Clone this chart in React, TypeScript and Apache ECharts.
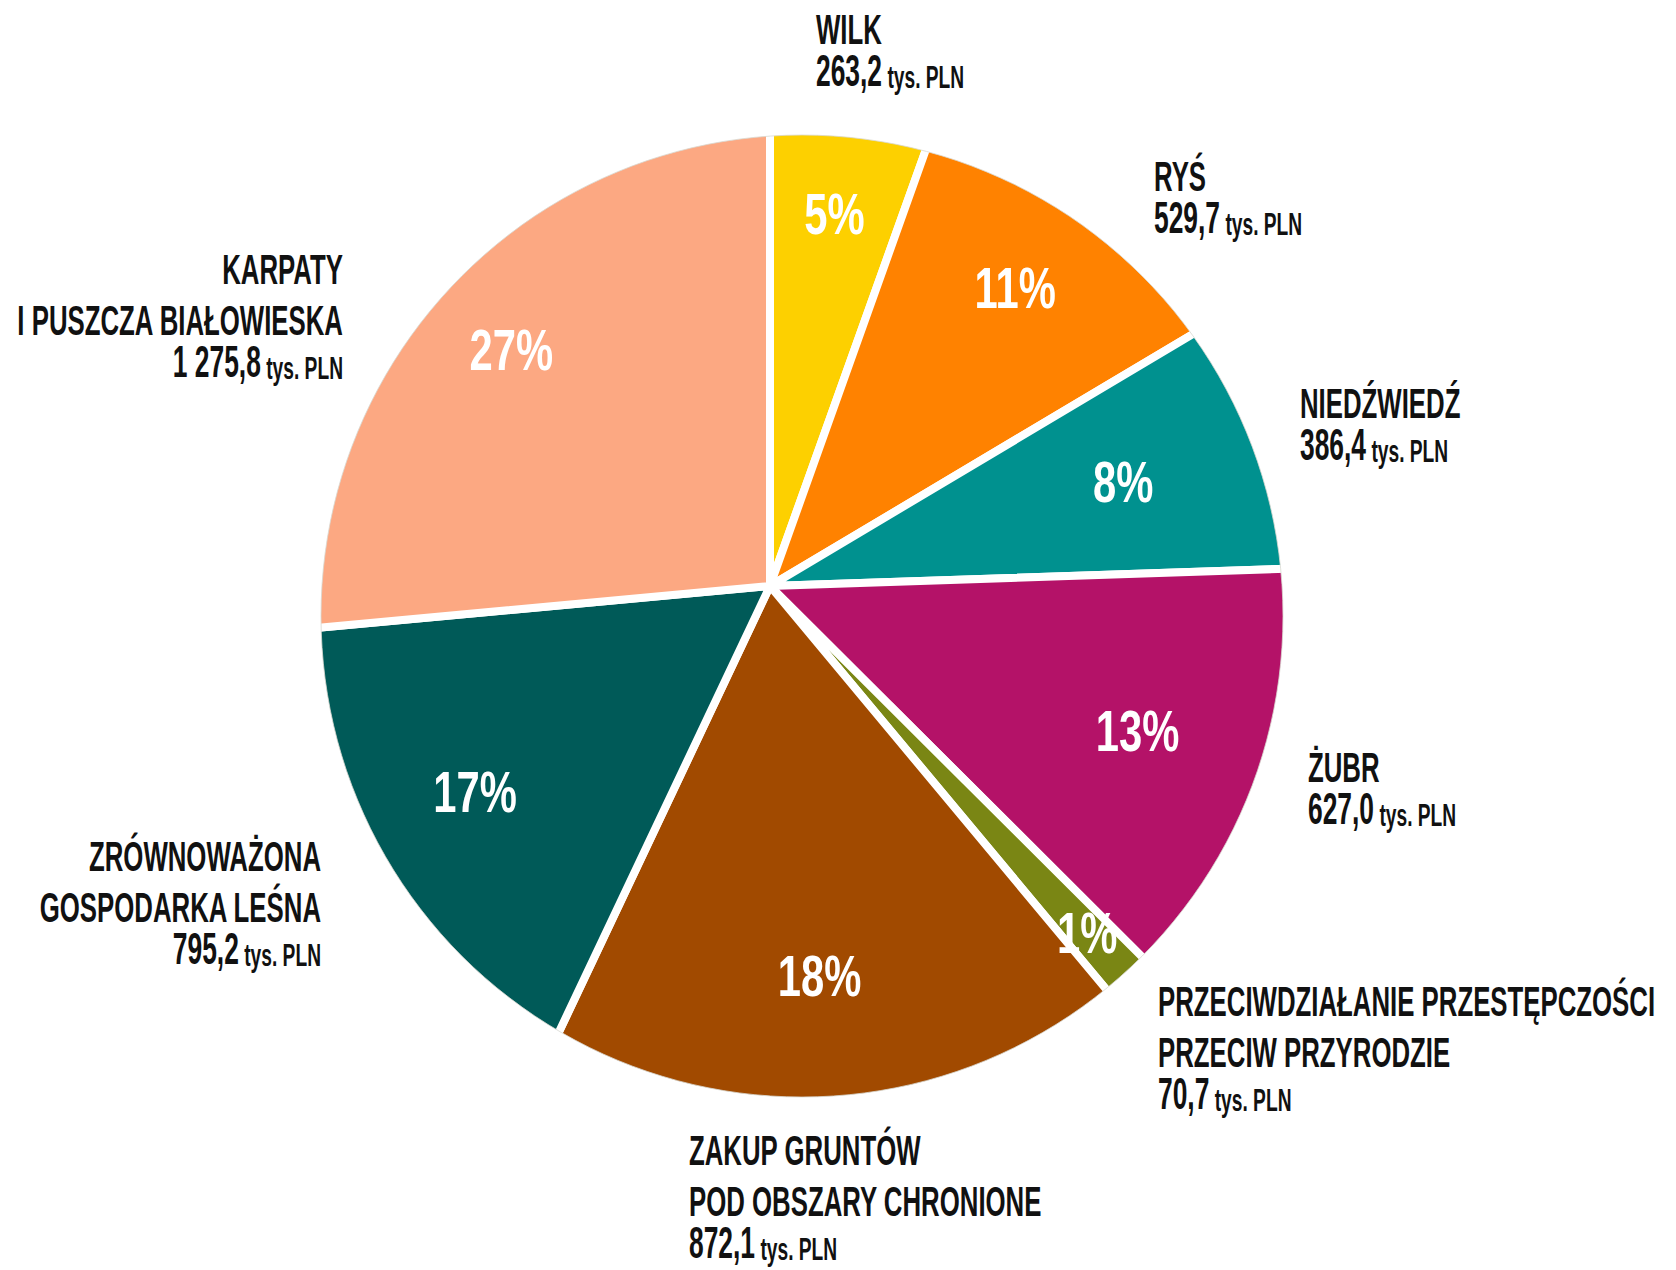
import React, { useEffect, useRef } from "react";
import * as echarts from "echarts";

const categories = [
  "WILK",
  "RYŚ",
  "NIEDŹWIEDŹ",
  "ŻUBR",
  "PRZECIWDZIAŁANIE PRZESTĘPCZOŚCI\nPRZECIW PRZYRODZIE",
  "ZAKUP GRUNTÓW\nPOD OBSZARY CHRONIONE",
  "ZRÓWNOWAŻONA\nGOSPODARKA LEŚNA",
  "KARPATY\nI PUSZCZA BIAŁOWIESKA",
];
const valuesTysPln = [263.2, 529.7, 386.4, 627.0, 70.7, 872.1, 795.2, 1275.8];
const percentLabels = ["5%", "11%", "8%", "13%", "1%", "18%", "17%", "27%"];
const unitLabel = "tys. PLN";

const sliceColors = [
  "#FDD000",
  "#FF8200",
  "#00918F",
  "#B41268",
  "#7A8614",
  "#A14A00",
  "#005A58",
  "#FCA882",
];

// label anchors (layout only): x, top y, alignment
const labelAnchors = [
  { x: 816, y: 4, align: "left" },
  { x: 1154, y: 151, align: "left" },
  { x: 1300, y: 378, align: "left" },
  { x: 1308, y: 742, align: "left" },
  { x: 1158, y: 976, align: "left" },
  { x: 689, y: 1125, align: "left" },
  { x: 321, y: 831, align: "right" },
  { x: 343, y: 244, align: "right" },
];

// distance of each percentage label from the slice vertex (layout only)
const pctLabelRadius = [378, 386, 368, 395, 470, 393, 360, 350];

// slices fan out from this vertex; the disc outline is a circle around CIRCLE_C
const PIE_VERTEX = [770, 586];
const PIE_RADIUS = 540;
const CIRCLE_C = [802, 616];
const CIRCLE_R = 481;

const LABEL_FONT = "'Liberation Sans', Arial, sans-serif";

function fmtValue(v: number): string {
  const [int, dec] = v.toFixed(1).split(".");
  const grouped = int.replace(/\B(?=(\d{3})+(?!\d))/g, " ");
  return grouped + "," + dec;
}

export default function App() {
  const ref = useRef<HTMLDivElement>(null);
  useEffect(() => {
    if (!ref.current) return;
    const chart = echarts.init(ref.current, undefined, { renderer: "svg" });

    const nameGraphics = categories.map((name, i) => {
      const a = labelAnchors[i];
      const lines = name.split("\n").map((l) => `{t|${l}}`);
      const text =
        lines.join("\n") + `\n{n|${fmtValue(valuesTysPln[i])}}{u| ${unitLabel}}`;
      const al = a.align as any;
      return {
        type: "text",
        x: a.x,
        y: a.y,
        z: 30,
        scaleX: 0.6,
        silent: true,
        style: {
          text,
          align: al,
          verticalAlign: "top",
          fill: "#111111",
          rich: {
            t: {
              fontFamily: LABEL_FONT,
              fontWeight: "bold",
              fontSize: 43,
              lineHeight: 51,
              fill: "#111111",
              align: al,
            },
            n: {
              fontFamily: LABEL_FONT,
              fontWeight: "bold",
              fontSize: 44,
              lineHeight: 38,
              verticalAlign: "bottom",
              fill: "#111111",
              align: al,
            },
            u: {
              fontFamily: LABEL_FONT,
              fontWeight: "bold",
              fontSize: 32,
              lineHeight: 30,
              verticalAlign: "bottom",
              fill: "#111111",
              align: al,
            },
          },
        },
      };
    });

    const mask = {
      type: "ring",
      z: 20,
      silent: true,
      shape: { cx: CIRCLE_C[0], cy: CIRCLE_C[1], r: 1400, r0: CIRCLE_R },
      style: { fill: "#ffffff", stroke: "#d8d8d0", lineWidth: 0.8 },
    };

    const seriesData = categories.map((c, i) => ({
      name: c,
      value: valuesTysPln[i],
      itemStyle: { color: sliceColors[i] },
    }));

    const baseOption: any = {
      animation: false,
      backgroundColor: "#ffffff",
      series: [
        {
          type: "pie",
          center: PIE_VERTEX,
          radius: PIE_RADIUS,
          startAngle: 90,
          clockwise: true,
          silent: true,
          label: { show: false },
          labelLine: { show: false },
          itemStyle: { borderColor: "#ffffff", borderWidth: 8 },
          data: seriesData,
        },
      ],
      graphic: [mask, ...nameGraphics],
    };
    chart.setOption(baseOption);

    // percentage labels placed at each slice's mid-angle taken from the pie layout
    let layouts: any[] = [];
    try {
      const data = (chart as any).getModel().getSeriesByIndex(0).getData();
      layouts = categories.map((_, i) => data.getItemLayout(i));
    } catch (e) {
      layouts = [];
    }
    if (!layouts.length || !layouts[0]) {
      const total = valuesTysPln.reduce((s, v) => s + v, 0);
      let acc = -Math.PI / 2;
      layouts = valuesTysPln.map((v) => {
        const s = acc;
        acc += (v / total) * Math.PI * 2;
        return { cx: PIE_VERTEX[0], cy: PIE_VERTEX[1], startAngle: s, endAngle: acc };
      });
    }
    const pctGraphics = layouts.map((l, i) => {
      const mid = (l.startAngle + l.endAngle) / 2;
      const r = pctLabelRadius[i];
      const x = l.cx + r * Math.cos(mid);
      const y = l.cy + r * Math.sin(mid);
      return {
        type: "text",
        x,
        y,
        z: 25,
        scaleX: 0.72,
        silent: true,
        style: {
          text: percentLabels[i],
          align: "center",
          verticalAlign: "middle",
          fill: "#ffffff",
          fontFamily: LABEL_FONT,
          fontWeight: "bold",
          fontSize: 58,
          ...(i === 4
            ? { shadowColor: "rgba(0,0,0,0.65)", shadowBlur: 10, shadowOffsetX: 2, shadowOffsetY: 2 }
            : {}),
        },
      };
    });
    chart.setOption({ graphic: [mask, ...nameGraphics, ...pctGraphics] });

    return () => chart.dispose();
  }, []);
  return (
    <div
      ref={ref}
      style={{ position: "fixed", left: 0, top: 0, width: 1676, height: 1270 }}
    />
  );
}
